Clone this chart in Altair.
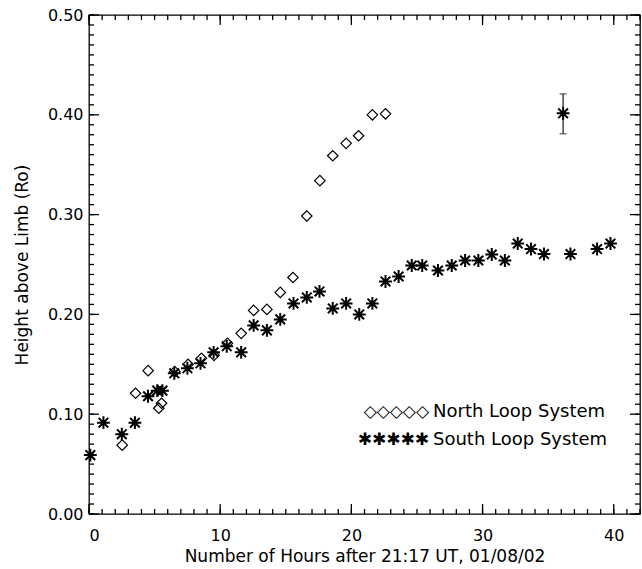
import altair as alt
import pandas as pd

# ---------------- data ----------------
south_hours = [0.1, 1.1, 2.5, 3.5, 4.5, 5.2, 5.6, 6.5, 7.5, 8.5,
               9.5, 10.5, 11.6, 12.55, 13.56, 14.58, 15.59, 16.6, 17.57, 18.58,
               19.6, 20.6, 21.6, 22.6, 23.6, 24.6, 25.4, 26.6, 27.65, 28.67,
               29.68, 30.7, 31.7, 32.68, 33.69, 34.68, 36.7, 38.73, 39.75]
south_height = [0.059, 0.0915, 0.080, 0.0915, 0.118, 0.1236, 0.1236, 0.141, 0.146, 0.151,
                0.162, 0.168, 0.162, 0.189, 0.184, 0.195, 0.211, 0.217, 0.223, 0.206,
                0.211, 0.200, 0.211, 0.233, 0.238, 0.249, 0.249, 0.244, 0.249, 0.254,
                0.254, 0.260, 0.254, 0.271, 0.2655, 0.2605, 0.2605, 0.2655, 0.271]

north_hours = [2.53, 3.55, 4.51, 5.32, 5.53, 6.54, 7.55, 8.57, 9.53, 10.55,
               11.6, 12.55, 13.56, 14.58, 15.55, 16.6, 17.6, 18.58, 19.6, 20.55,
               21.6, 22.6]
north_height = [0.069, 0.121, 0.1436, 0.106, 0.111, 0.1426, 0.150, 0.156, 0.159, 0.171,
                0.181, 0.204, 0.205, 0.222, 0.237, 0.2986, 0.334, 0.359, 0.3714, 0.379,
                0.400, 0.401]

err_hours = [36.14]
err_height = [0.4015]
err_low = [0.381]
err_high = [0.421]

x_major = [0, 10, 20, 30, 40]
x_minor = list(range(0, 43))
y_major = [0.0, 0.1, 0.2, 0.3, 0.4, 0.5]
y_minor = [round(i * 0.01, 2) for i in range(51)]

x_title = "Number of Hours after 21:17 UT, 01/08/02"
y_title = "Height above Limb (Ro)"
legend_labels = ["North Loop System", "South Loop System"]
legend_symbols = ["\u25c7\u25c7\u25c7\u25c7\u25c7", "\u2731\u2731\u2731\u2731\u2731"]

# ---------------- tables ----------------
south = pd.DataFrame({"hours": south_hours, "height": south_height})
north = pd.DataFrame({"hours": north_hours, "height": north_height})
err = pd.DataFrame({"hours": err_hours, "height": err_height,
                    "low": err_low, "high": err_high})
xmaj = pd.DataFrame({"pos": x_major})
xmin = pd.DataFrame({"pos": x_minor})
ymaj = pd.DataFrame({"pos": y_major})
ymin = pd.DataFrame({"pos": y_minor})

W, H = 551, 499
X0, X1 = 0, 42
Y0, Y1 = 0.0, 0.5
FONT = "DejaVu Sans"
STAR = "M-1,0L1,0M0,-1L0,1M-0.75,-0.75L0.75,0.75M-0.75,0.75L0.75,-0.75"

xs = alt.Scale(domain=[X0, X1], nice=False, zero=False)
ys = alt.Scale(domain=[Y0, Y1], nice=False, zero=False)

lab = dict(labelFont=FONT, labelFontSize=16, labelColor="black",
           titleFont=FONT, titleFontSize=17, titleColor="black",
           titleFontWeight="normal", domain=False, grid=False, ticks=False)

south_layer = alt.Chart(south).mark_point(
    shape=STAR, size=165, filled=False, color="black", strokeWidth=2, opacity=1
).encode(
    x=alt.X("hours:Q", scale=xs,
            axis=alt.Axis(orient="bottom", values=x_major, labelPadding=13,
                          title=x_title, titlePadding=5, **lab)),
    y=alt.Y("height:Q", scale=ys,
            axis=alt.Axis(orient="left", values=y_major, labelPadding=6,
                          format=".2f", title=y_title, titlePadding=16, **lab)),
)

north_layer = alt.Chart(north).mark_point(
    shape="diamond", size=110, filled=False, color="black", strokeWidth=1.2, opacity=1
).encode(
    x=alt.X("hours:Q", scale=xs),
    y=alt.Y("height:Q", scale=ys),
)

err_rule = alt.Chart(err).mark_rule(color="#444444", strokeWidth=1.5).encode(
    x=alt.X("hours:Q", scale=xs),
    y=alt.Y("low:Q", scale=ys),
    y2="high:Q",
)

err_caps = alt.Chart(err).transform_fold(["low", "high"], as_=["end", "val"]).mark_tick(
    orient="horizontal", size=7, thickness=1.5, color="#444444"
).encode(
    x=alt.X("hours:Q", scale=xs),
    y=alt.Y("val:Q", scale=ys),
)

err_point = alt.Chart(err).mark_point(
    shape=STAR, size=165, filled=False, color="black", strokeWidth=2, opacity=1
).encode(
    x=alt.X("hours:Q", scale=xs),
    y=alt.Y("height:Q", scale=ys),
)


# inward-pointing ticks on all four sides (IDL box style); tick length in pixels
# converted to data units so the rules go through the shared scales.
def xticks(df, length_px):
    dy = length_px * (Y1 - Y0) / H
    base = alt.Chart(df).mark_rule(color="black", strokeWidth=1.3)
    bottom = base.transform_calculate(a=f"{Y0}", b=f"{Y0 + dy}").encode(
        x=alt.X("pos:Q", scale=xs), y=alt.Y("a:Q", scale=ys), y2="b:Q")
    top = base.transform_calculate(a=f"{Y1}", b=f"{Y1 - dy}").encode(
        x=alt.X("pos:Q", scale=xs), y=alt.Y("a:Q", scale=ys), y2="b:Q")
    return [bottom, top]


def yticks(df, length_px):
    dx = length_px * (X1 - X0) / W
    base = alt.Chart(df).mark_rule(color="black", strokeWidth=1.3)
    left = base.transform_calculate(a=f"{X0}", b=f"{X0 + dx}").encode(
        y=alt.Y("pos:Q", scale=ys), x=alt.X("a:Q", scale=xs), x2="b:Q")
    right = base.transform_calculate(a=f"{X1}", b=f"{X1 - dx}").encode(
        y=alt.Y("pos:Q", scale=ys), x=alt.X("a:Q", scale=xs), x2="b:Q")
    return [left, right]


tick_layers = xticks(xmaj, 10) + xticks(xmin, 5) + yticks(ymaj, 10) + yticks(ymin, 5)

leg_df = pd.DataFrame({"label": legend_labels, "sym": legend_symbols})
legend_layers = []
for i, ypix in enumerate([397, 425]):
    row = leg_df.iloc[[i]]
    legend_layers.append(
        alt.Chart(row).mark_text(font=FONT, fontSize=17, align="right",
                                 baseline="middle", color="black").encode(
            text="sym:N", x=alt.value(340), y=alt.value(ypix)))
    legend_layers.append(
        alt.Chart(row).mark_text(font=FONT, fontSize=18, align="left",
                                 baseline="middle", color="black").encode(
            text="label:N", x=alt.value(344), y=alt.value(ypix)))

chart = alt.layer(
    south_layer, north_layer, err_rule, err_caps, err_point,
    *tick_layers, *legend_layers
).properties(
    width=W, height=H,
    autosize=alt.AutoSizeParams(type="none"),
    padding={"left": 89, "top": 15, "right": 2, "bottom": 55},
    background="white",
).configure_view(stroke="black", strokeWidth=1.3)

chart.save("out.html", embed_options={"renderer": "svg", "actions": False})
